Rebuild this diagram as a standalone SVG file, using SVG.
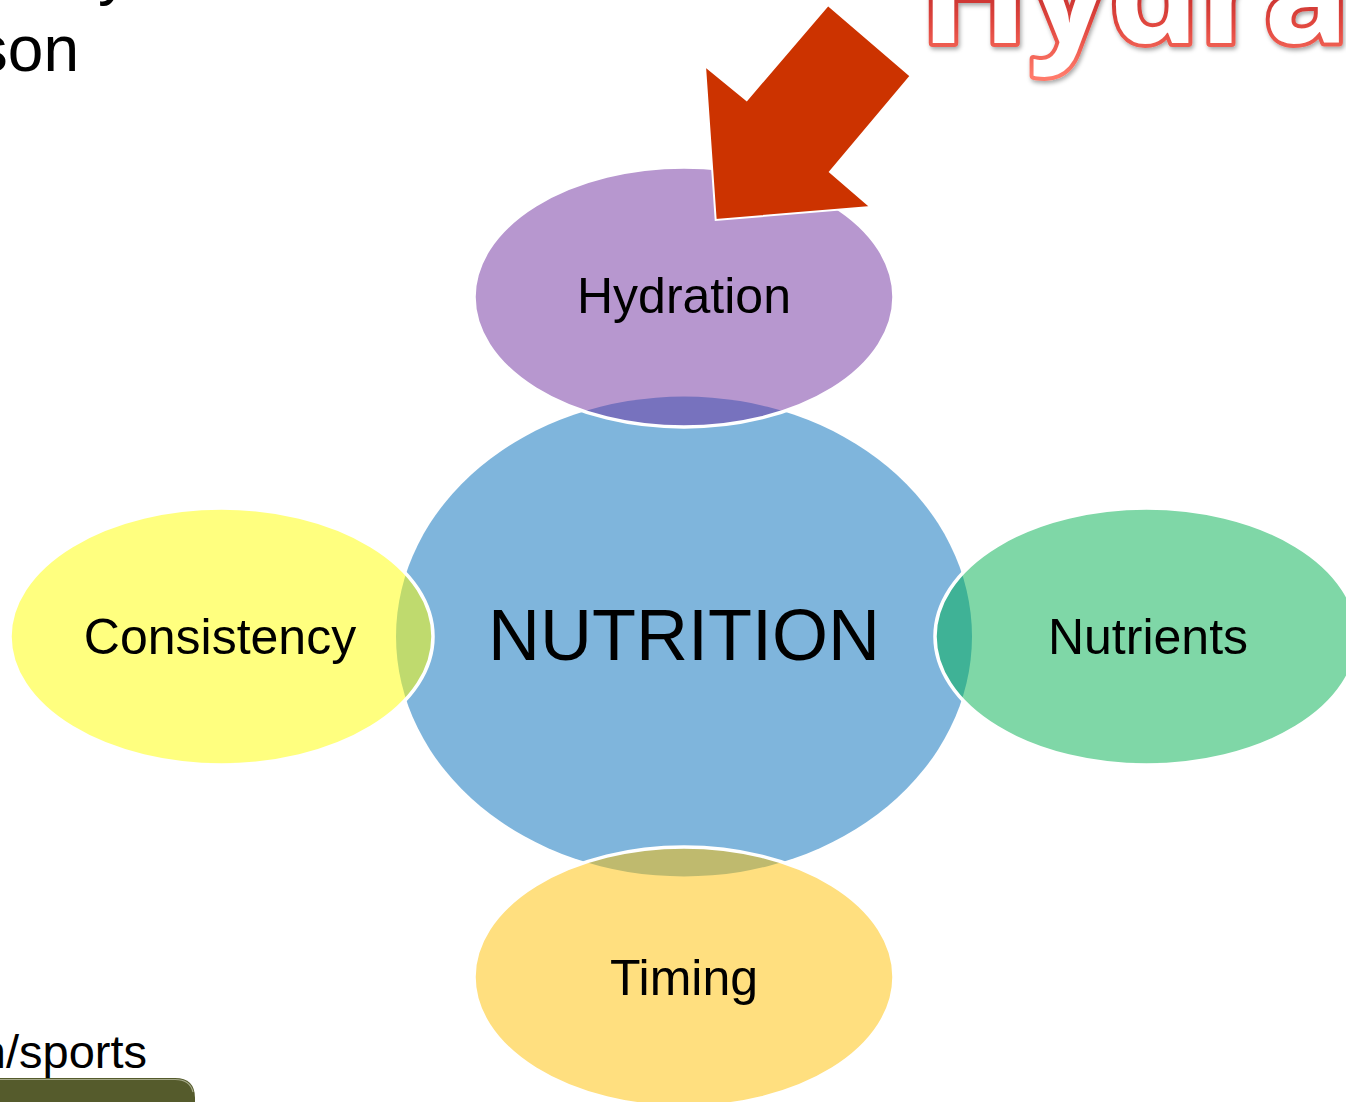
<svg xmlns="http://www.w3.org/2000/svg" width="1346" height="1102" viewBox="0 0 1346 1102">
<defs>
<style>
.lbl{font-family:"Liberation Sans",Arial,sans-serif;fill:#000;text-anchor:middle}
.sat{stroke:#fff;stroke-width:3.5;fill-opacity:0.5}
.body{font-family:"Liberation Sans",Arial,sans-serif;fill:#000}
</style>
<linearGradient id="tg" gradientUnits="userSpaceOnUse" x1="0" y1="-40" x2="0" y2="75">
<stop offset="0" stop-color="#B01E22"/>
<stop offset="0.55" stop-color="#E0463E"/>
<stop offset="1" stop-color="#FF7A6A"/>
</linearGradient>
<filter id="sh" x="-10%" y="-50%" width="120%" height="200%">
<feDropShadow dx="1.5" dy="2.5" stdDeviation="2" flood-color="#000" flood-opacity="0.35"/>
</filter>
</defs>
<rect width="1346" height="1102" fill="#fff"/>

<g id="background-text">
<text class="body" x="98" y="-7" font-size="64">y</text>
<text class="body" x="79" y="71" font-size="64" text-anchor="end">son</text>
<text class="body" x="147" y="1068" font-size="47" text-anchor="end">n/sports</text>
<path d="M0 1078 H175 Q195 1078 195 1098 V1102 H0 Z" fill="#555B2C"/>
<path d="M0 1079.5 H175 Q190 1079.5 193 1092" fill="none" stroke="#C8CBB0" stroke-width="1.2" opacity="0.7"/>
</g>

<g id="title">
<text x="920" y="43" font-family="'Open Sans','DejaVu Sans',sans-serif" font-weight="bold" font-size="142" fill="#fff" stroke="url(#tg)" stroke-width="8" stroke-linejoin="round" paint-order="stroke" filter="url(#sh)">Hydration</text>
</g>

<g id="node-nutrition">
<ellipse cx="684" cy="636.5" rx="288" ry="240" fill="#7FB5DC"/>
<text class="lbl" x="684" y="660" font-size="72">NUTRITION</text>
</g>

<g id="node-hydration">
<ellipse class="sat" cx="684" cy="297" rx="210" ry="130" fill="#7030A0"/>
<text class="lbl" x="684" y="313" font-size="50">Hydration</text>
</g>

<g id="node-consistency">
<ellipse class="sat" cx="221.5" cy="636.5" rx="211.5" ry="128.5" fill="#FFFF00"/>
<text class="lbl" x="220" y="654" font-size="50">Consistency</text>
</g>

<g id="node-nutrients">
<ellipse class="sat" cx="1146.5" cy="636.5" rx="211.5" ry="128.5" fill="#00B050"/>
<text class="lbl" x="1148" y="654" font-size="50">Nutrients</text>
</g>

<g id="node-timing">
<ellipse class="sat" cx="684" cy="977" rx="210" ry="130" fill="#FFC000"/>
<text class="lbl" x="684" y="995" font-size="50">Timing</text>
</g>

<g id="connectors">
<polygon points="715.7,220 705,66 746.7,100 828,5 910.7,76 830,172 870.7,207" fill="#CC3300" stroke="#fff" stroke-width="2" stroke-linejoin="miter"/>
</g>
</svg>
